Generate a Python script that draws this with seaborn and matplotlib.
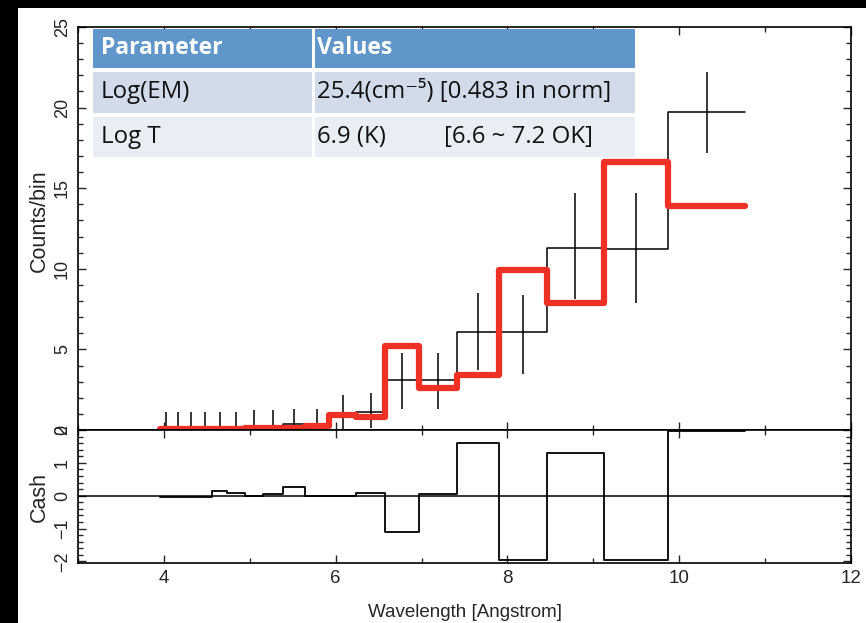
import matplotlib
matplotlib.use('Agg')
import matplotlib.pyplot as plt
import seaborn as sns
import numpy as np
from matplotlib.patches import Rectangle
from matplotlib.ticker import MultipleLocator

### DATA ###
# wavelength bin edges [Angstrom]
edges = [3.95, 4.09, 4.23, 4.39, 4.56, 4.74, 4.94, 5.15, 5.39, 5.64,
         5.92, 6.24, 6.58, 6.97, 7.41, 7.90, 8.46, 9.12, 9.87, 10.77]
# observed counts per bin and error bar range
counts = [0, 0, 0, 0, 0, 0, 0, 0, 0.35, 0,
          1.0, 1.1, 3.1, 3.1, 6.1, 6.1, 11.3, 11.2, 19.7]
err_lo = [0, 0, 0, 0, 0, 0, 0, 0, 0, 0,
          0, 0.1, 1.3, 1.3, 3.7, 3.5, 8.1, 7.9, 17.2]
err_hi = [1.12, 1.12, 1.12, 1.12, 1.12, 1.12, 1.24, 1.24, 1.32, 1.32,
          2.2, 2.3, 4.8, 4.8, 8.5, 8.4, 14.7, 14.7, 22.2]
# model (red)
model = [0.05, 0.05, 0.05, 0.05, 0.05, 0.05, 0.15, 0.15, 0.15, 0.25,
         0.95, 0.8, 5.2, 2.6, 3.4, 9.9, 7.9, 16.6, 13.9]
# Cash residuals
resid = [-0.05, -0.05, -0.05, -0.05, 0.13, 0.08, 0.0, 0.04, 0.25, 0.0,
         0.0, 0.08, -1.1, 0.05, 1.6, -1.97, 1.3, -1.97, 1.96]

table_rows = [("Parameter", "Values"),
              ("Log(EM)", "25.4(cm\u207b\u2075) [0.483 in norm]"),
              ("Log T", "6.9 (K)")]
logt_range = "[6.6 ~ 7.2 OK]"

### STYLE ###
sns.set_style("ticks")
plt.rcParams['font.family'] = ['Liberation Sans', 'DejaVu Sans']

W, H = 866, 623
fig = plt.figure(figsize=(W / 100, H / 100), dpi=100, facecolor='black')
fig.add_artist(Rectangle((18 / W, 0), 1, 1 - 8 / H, transform=fig.transFigure,
                         facecolor='white', edgecolor='none', zorder=-5))

x0, x1 = 78, 851
ax1 = fig.add_axes([x0 / W, 1 - 430 / H, (x1 - x0) / W, (430 - 27) / H])
ax2 = fig.add_axes([x0 / W, 1 - 563 / H, (x1 - x0) / W, (563 - 430) / H], sharex=ax1)

centers = (np.array(edges[:-1]) + np.array(edges[1:])) / 2

# data histogram + error bars
sns.lineplot(x=edges, y=counts + [counts[-1]], drawstyle='steps-post', color='black',
             lw=1.1, ax=ax1, estimator=None, sort=False)
ax1.vlines(centers, err_lo, err_hi, color='black', lw=1.1)
# model
sns.lineplot(x=edges, y=model + [model[-1]], drawstyle='steps-post', color='#ee3124',
             lw=4.5, ax=ax1, estimator=None, sort=False)

# residuals
ax2.axhline(0, color='black', lw=1.1)
sns.lineplot(x=edges, y=resid + [resid[-1]], drawstyle='steps-post', color='black',
             lw=1.3, ax=ax2, estimator=None, sort=False)

ax1.set_xlim(3, 12)
ax1.set_ylim(0, 25)
ax2.set_ylim(-2.05, 2)

for ax in (ax1, ax2):
    ax.xaxis.set_major_locator(MultipleLocator(2))
    ax.xaxis.set_minor_locator(MultipleLocator(1))
    ax.tick_params(which='both', direction='in', top=True, right=True, width=1, pad=5)
    ax.tick_params(which='major', length=6)
    ax.tick_params(which='minor', length=3.5)
    ax.tick_params(axis='x', labelsize=13.5)
    ax.tick_params(axis='y', labelrotation=90, labelsize=13)
    for s in ax.spines.values():
        s.set_linewidth(1.2)
        s.set_color('black')

ax1.yaxis.set_major_locator(MultipleLocator(5))
ax1.yaxis.set_minor_locator(MultipleLocator(1))
ax2.yaxis.set_major_locator(MultipleLocator(1))
ax2.yaxis.set_minor_locator(MultipleLocator(0.2))
ax1.tick_params(axis='x', labelbottom=False)
for ax in (ax1, ax2):
    for lbl in ax.get_yticklabels():
        lbl.set_va('center')

ax1.set_ylabel('Counts/bin', fontsize=15.5)
ax2.set_ylabel('Cash', fontsize=15.5)
ax2.set_xlabel('Wavelength [Angstrom]', fontsize=13.5, labelpad=12)
ax1.yaxis.set_label_coords(-0.037, 0.52)
ax2.yaxis.set_label_coords(-0.037, 0.5)

### TABLE OVERLAY ###
def cell(xa, ya, xb, yb, color):
    fig.add_artist(Rectangle((xa / W, 1 - yb / H), (xb - xa) / W, (yb - ya) / H,
                             transform=fig.transFigure, facecolor=color,
                             edgecolor='none', zorder=5))

row_y = [(29, 68), (72, 113), (117, 157)]
row_colors = ['#6096ca', '#d2dbea', '#e9edf4']
for (ya, yb), c, (left, right) in zip(row_y, row_colors, table_rows):
    cell(93, ya, 312, yb, c)
    cell(315, ya, 635, yb, c)
    yc = 1 - (ya + yb) / 2 / H
    bold = c == row_colors[0]
    col = 'white' if bold else '#111111'
    kw = dict(va='center', ha='left', fontsize=16.5 if bold else 17.3, color=col, zorder=6,
              family=['Open Sans', 'DejaVu Sans'], fontweight='bold' if bold else 'normal')
    fig.text(101 / W, yc, left, **kw)
    fig.text(317 / W, yc, right, **kw)
    if left == "Log T":
        fig.text(444 / W, yc, logt_range, **kw)

fig.savefig('out.png', dpi=100, facecolor='black')
